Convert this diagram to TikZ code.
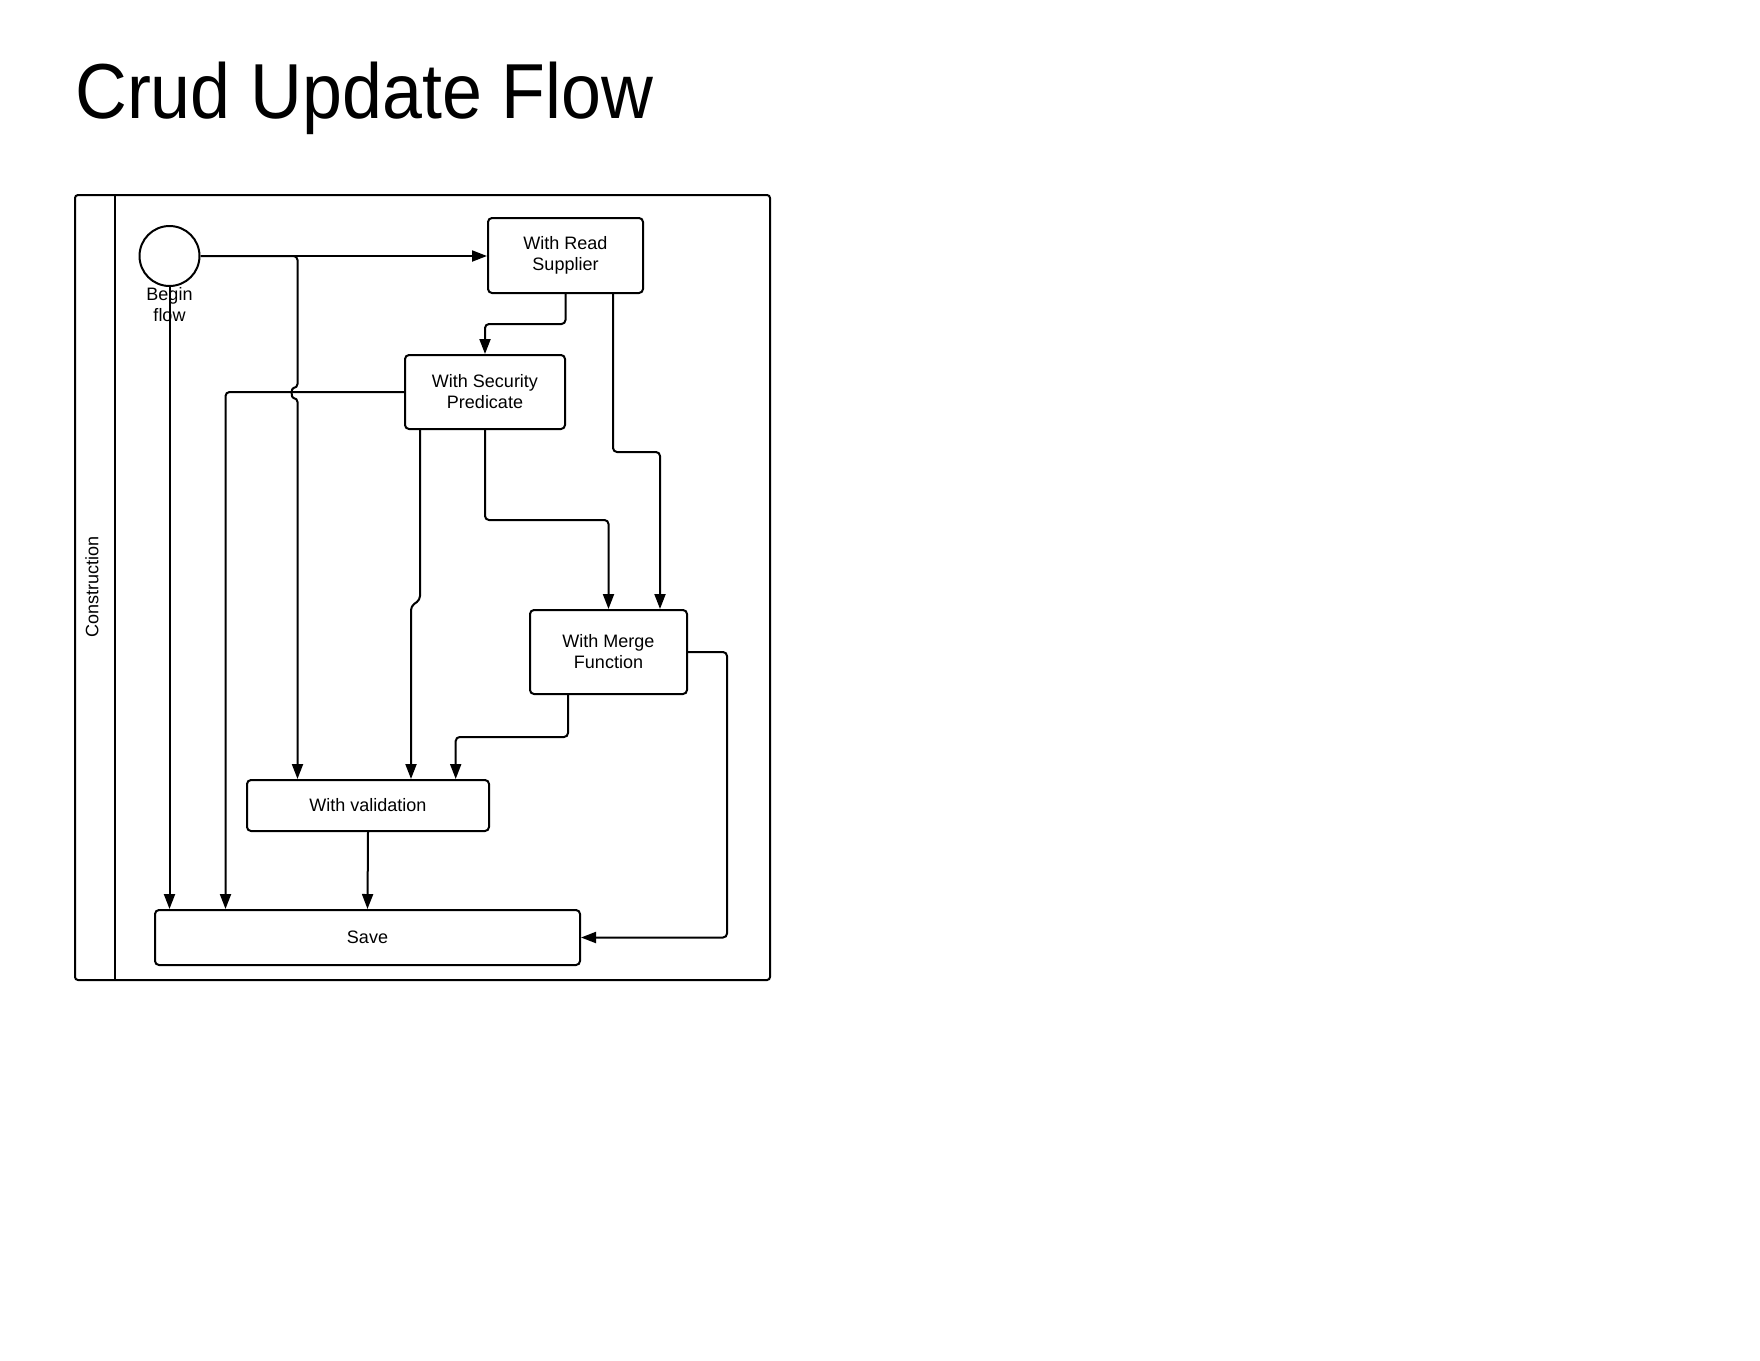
\documentclass[tikz,border=0pt]{standalone}
\usepackage{fontspec}
\setmainfont{Liberation Sans}
\usetikzlibrary{arrows.meta}
\begin{document}
\begin{tikzpicture}[x=1pt,y=-1pt,
 box/.style={draw, rounded corners=4pt, line width=2pt, align=center, font=\fontsize{18}{21}\selectfont, inner sep=0pt},
 flow/.style={draw, line width=2pt, rounded corners=4pt, -{Triangle[length=15pt,width=11pt]}},
 lbl/.style={font=\fontsize{18}{21}\selectfont, align=center, inner sep=0pt}]
\useasboundingbox (0,0) rectangle (1760,1360);
\fill[white] (0,0) rectangle (1760,1360);
% title
\node[anchor=base west, inner sep=0pt, font=\fontsize{78}{84}\selectfont] (title) at (75,118) {\scalebox{0.92}[1]{Crud Update Flow}};
% pool
\draw[line width=2pt, rounded corners=3pt] (75,195) rectangle (770,980);
\draw[line width=2pt] (114.5,195) -- (114.5,980);
\node[lbl, rotate=90] (lane) at (92,587) {Construction};
% nodes
\node[circle, draw, line width=2pt, minimum size=60pt, inner sep=0pt] (start) at (169.5,256) {};
\node[lbl] (startlbl) at (169.5,304.5) {Begin\\flow};
\node[box, minimum width=155pt, minimum height=75pt] (read) at (565.5,255.5) {With Read\\Supplier};
\node[box, minimum width=160pt, minimum height=74pt] (sec) at (485,392) {With Security\\Predicate};
\node[box, minimum width=157pt, minimum height=84pt] (merge) at (608.5,652) {With Merge\\Function};
\node[box, minimum width=242pt, minimum height=51pt] (val) at (368,805.5) {With validation};
\node[box, minimum width=425pt, minimum height=55pt] (save) at (367.5,937.5) {Save};
% connectors
\draw[flow] (start.east) -- (read.west |- start.east);
\draw[flow] (start.east) -- (297.5,256) -- (297.5,388) .. controls (291,388) and (291,398) .. (297.5,398) -- (val.north -| 297.5,0);
\draw[flow] (start.south) -- (save.north -| start.south);
\draw[flow] (read.south) -- (read.south |- 0,324) -- (485,324) -- (sec.north);
\draw[flow] (read.south -| 613,0) -- (613,452) -- (660,452) -- (merge.north -| 660,0);
\draw[flow] (sec.west) -- (225.5,392) -- (save.north -| 225.5,0);
\draw[flow] (sec.south -| 420,0) -- (420,600) -- (411,606) -- (val.north -| 411,0);
\draw[flow] (sec.south) -- (485,520) -- (608.5,520) -- (merge.north);
\draw[flow] (merge.south -| 568,0) -- (568,737) -- (455.7,737) -- (val.north -| 455.7,0);
\draw[flow] (merge.east) -- (727,652) -- (727,937.5) -- (save.east);
\draw[flow] (val.south) -- (save.north);
\end{tikzpicture}
\end{document}
